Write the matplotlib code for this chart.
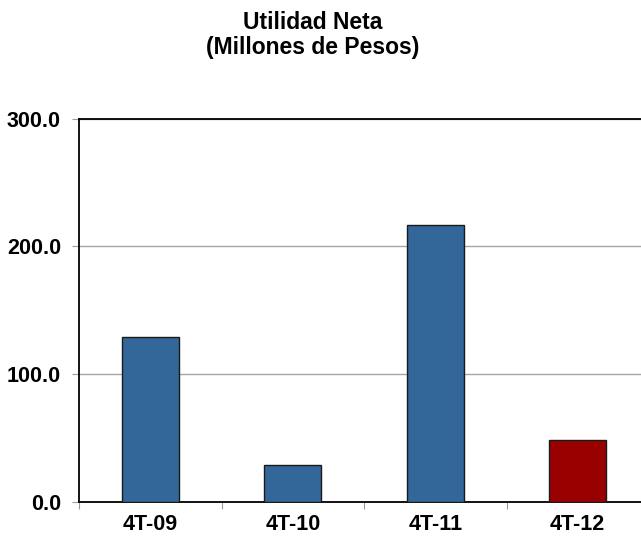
import matplotlib
matplotlib.use("Agg")
import matplotlib.pyplot as plt

plt.rcParams['font.family'] = ['Liberation Sans', 'DejaVu Sans']

# Net income by quarter (millions of pesos)
periods = ["4T-09", "4T-10", "4T-11", "4T-12"]
utilidad = [129.4, 28.7, 216.8, 48.5]
colors = ["#336699", "#336699", "#336699", "#990000"]
y_ticks = [0, 100, 200, 300]

fig = plt.figure(figsize=(6.41, 5.37), dpi=100)
ax = fig.add_axes([79 / 641, 35 / 537, 570 / 641, 383.3 / 537])

x = range(len(periods))
ax.bar(x, utilidad, width=0.4, color=colors, edgecolor="#1a1a1a", linewidth=1.0, zorder=3)

ax.set_xlim(-0.5, len(periods) - 0.5)
ax.set_ylim(0, 300)

ax.set_yticks(y_ticks)
ax.set_yticklabels([f"{v:.1f}" for v in y_ticks], fontsize=15.5, fontweight="bold")
ax.tick_params(axis="y", length=5, color="#999999", pad=8)

# category labels centered under bars, tick marks between categories
ax.set_xticks([i - 0.5 for i in range(len(periods) + 1)])
ax.set_xticklabels([])
ax.set_xticks(list(x), minor=True)
ax.set_xticklabels(periods, minor=True, fontsize=15.5, fontweight="bold")
ax.tick_params(axis="x", which="major", length=5, color="#999999")
ax.tick_params(axis="x", which="minor", length=0, pad=9)

ax.yaxis.grid(True, color="#a6a6a6", linewidth=1.0, zorder=0)
ax.set_axisbelow(True)

for side in ("left", "bottom", "top"):
    ax.spines[side].set_color("black")
    ax.spines[side].set_linewidth(1.3)
ax.spines["right"].set_visible(False)

fig.text(313 / 641, 1 - 11 / 537, "Utilidad Neta\n(Millones de Pesos)", ha="center", va="top",
         fontsize=16.5, fontweight="bold", linespacing=1.1)

fig.savefig("out.png", dpi=100)
